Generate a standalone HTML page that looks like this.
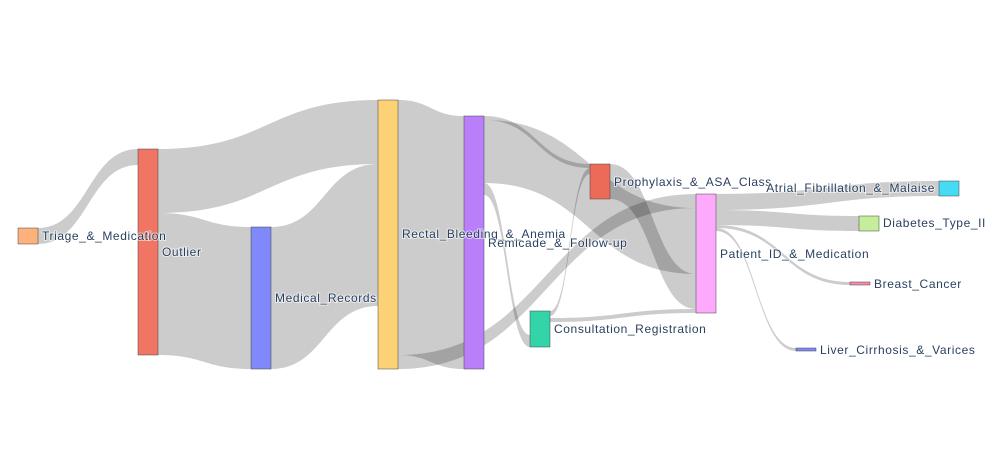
<!DOCTYPE html>
<html><head><meta charset="utf-8"><style>
html,body{margin:0;padding:0;background:#fff;}
svg{display:block}
text{font-family:"Liberation Sans",Arial,sans-serif;font-size:12px;letter-spacing:0.6px;fill:#2a3f5f;paint-order:stroke;stroke:#fff;stroke-width:2px;stroke-opacity:0.6}
</style></head><body>
<svg width="996" height="450" viewBox="0 0 996 450" xmlns="http://www.w3.org/2000/svg">
<g id="links" fill="#000" fill-opacity="0.2"></g>
<g id="nodes" stroke="#444" stroke-width="0.5"></g>
<g id="labels"></g>
</svg>
<script>
var L=document.getElementById('links'),N=document.getElementById('nodes'),T=document.getElementById('labels');
var ns='http://www.w3.org/2000/svg';
function link(x0,a0,b0,x1,a1,b1){var m=(x0+x1)/2;var p=document.createElementNS(ns,'path');
p.setAttribute('d','M'+x0+' '+a0+'C'+m+' '+a0+' '+m+' '+a1+' '+x1+' '+a1+'L'+x1+' '+b1+'C'+m+' '+b1+' '+m+' '+b0+' '+x0+' '+b0+'Z');L.appendChild(p);}
link(38,228,244,138,149,165);
link(158,149,213,378,100,164);
link(158,213,355,251,227,369);
link(271,227,369,378,164,306);
link(398,100,355,464,116,369);
link(398,355,369,696,194,208);
link(484,116,120,590,164,168);
link(484,120,183,696,208,274);
link(484,183,195,530,335,347);
link(550,311,316,590,168,174);
link(550,318,322,696,309,313);
link(610,164,199,696,274,309);
link(716,194,210,939,181,196);
link(716,210,225,859,216,231);
link(716,225,228,850,282,285);
link(716,228,231,796,348,351);
function node(x,y,w,h,c){var r=document.createElementNS(ns,'rect');r.setAttribute('x',x);r.setAttribute('y',y);r.setAttribute('width',w);r.setAttribute('height',h);r.setAttribute('fill',c);N.appendChild(r);}
node(18,228,20,16,'#fdb27c');
node(138,149,20,206,'#f07563');
node(251,227,20,142,'#8089fa');
node(378,100,20,269,'#fdd276');
node(464,116,20,253,'#b97ff8');
node(530,311,20,36,'#33d4a8');
node(590,164,20,35,'#ec6b58');
node(696,194,20,119,'#fdaafd');
node(939,181,20,15,'#46dbf5');
node(859,216,20,15,'#c5ed9a');
node(850,282,20,3,'#f98aa8');
node(796,348,20,3,'#8089fa');
function lab(x,y,s,end){var t=document.createElementNS(ns,'text');t.setAttribute('x',x);t.setAttribute('y',y+4);if(end)t.setAttribute('text-anchor','end');t.textContent=s;T.appendChild(t);}
lab(42,236,'Triage_&_Medication');
lab(162,252,'Outlier');
lab(275,298,'Medical_Records');
lab(402,234,'Rectal_Bleeding_&_Anemia');
lab(488,243,'Remicade_&_Follow-up');
lab(554,329,'Consultation_Registration');
lab(614,182,'Prophylaxis_&_ASA_Class');
lab(720,254,'Patient_ID_&_Medication');
lab(935,188,'Atrial_Fibrillation_&_Malaise',true);
lab(883,223,'Diabetes_Type_II');
lab(874,284,'Breast_Cancer');
lab(820,350,'Liver_Cirrhosis_&_Varices');
</script>
</body></html>
